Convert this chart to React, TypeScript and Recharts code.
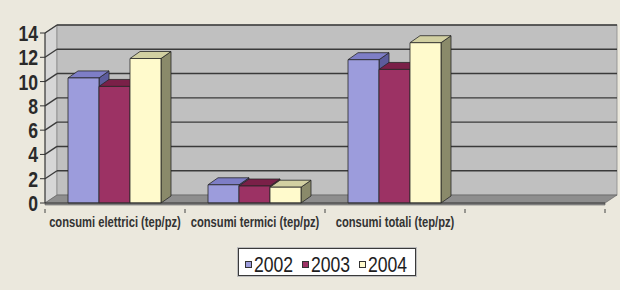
import { BarChart, Bar, XAxis, YAxis, CartesianGrid } from "recharts";

const categories = [
  "consumi elettrici (tep/pz)",
  "consumi termici (tep/pz)",
  "consumi totali (tep/pz)",
  "",
];
const years = ["2002", "2003", "2004"];
const values2002 = [10.3, 1.5, 11.8, null];
const values2003 = [9.6, 1.4, 11.0, null];
const values2004 = [11.9, 1.3, 13.2, null];
const yTicks = [0, 2, 4, 6, 8, 10, 12, 14];

const data = categories.map((name, i) => ({
  name,
  y2002: values2002[i],
  y2003: values2003[i],
  y2004: values2004[i],
}));

const COLORS = [
  { face: "#9c9cdc", top: "#7e7ec6", side: "#5c5c9c" },
  { face: "#9c3264", top: "#7a2048", side: "#66203f" },
  { face: "#fffacc", top: "#d2d0a2", side: "#8a8a6a" },
];

// Arial Narrow is not installed: squeeze Liberation Sans horizontally instead
const FONT = "'Liberation Sans', Arial, sans-serif";
const NARROW = 0.8;
const WALL_DX = 12;
const WALL_DY = -8;

function NarrowText({ x, y, anchor, size, weight, fill, children }: any) {
  return (
    <g transform={`translate(${x},${y}) scale(${NARROW},1)`}>
      <text
        x={0}
        y={0}
        textAnchor={anchor}
        fill={fill}
        fontFamily={FONT}
        fontWeight={weight}
        fontSize={size}
      >
        {children}
      </text>
    </g>
  );
}

function Bar3D(props: any) {
  const { x, y, width, height, face, top, side } = props;
  if (x == null || !height || height <= 0) return null;
  const dx = 10;
  const dy = -7;
  const r = x + width;
  const b = y + height;
  return (
    <g stroke="#262626" strokeWidth={0.8} strokeLinejoin="round">
      <polygon points={`${r},${y} ${r + dx},${y + dy} ${r + dx},${b + dy} ${r},${b}`} fill={side} />
      <polygon points={`${x},${y} ${x + dx},${y + dy} ${r + dx},${y + dy} ${r},${y}`} fill={top} />
      <rect x={x} y={y} width={width} height={height} fill={face} />
    </g>
  );
}

function GridLine(props: any) {
  const { x1, x2, y1, index, y, height } = props;
  const top = y;
  const bottom = y + height;
  const walls =
    index === 0 ? (
      <g>
        <polygon
          points={`${x1},${bottom} ${x1 + WALL_DX},${bottom + WALL_DY} ${x1 + WALL_DX},${top + WALL_DY} ${x1},${top}`}
          fill="#d6d6d6"
          stroke="#8a8a8a"
          strokeWidth={0.8}
        />
        <rect
          x={x1 + WALL_DX}
          y={top + WALL_DY}
          width={x2 - x1}
          height={height}
          fill="#c0c0c0"
          stroke="#8a8a8a"
          strokeWidth={0.8}
        />
        <polygon
          points={`${x1},${bottom} ${x1 + WALL_DX},${bottom + WALL_DY} ${x2 + WALL_DX},${bottom + WALL_DY} ${x2},${bottom} ${x2},${bottom + 2} ${x1},${bottom + 2}`}
          fill="#8e8e8e"
          stroke="#5a5a5a"
          strokeWidth={0.6}
        />
      </g>
    ) : null;
  const isFloor = Math.abs(y1 - bottom) < 0.5;
  return (
    <g key={`g-${index}`}>
      {walls}
      {!isFloor && (
        <g stroke="#3a3a3a" strokeWidth={1.4}>
          <line x1={x1} y1={y1} x2={x1 + WALL_DX} y2={y1 + WALL_DY} />
          <line x1={x1 + WALL_DX} y1={y1 + WALL_DY} x2={x2 + WALL_DX} y2={y1 + WALL_DY} />
        </g>
      )}
    </g>
  );
}

function XTick(props: any) {
  const { x, y, payload, width, visibleTicksCount } = props;
  const n = visibleTicksCount || 4;
  const half = (width || 560) / n / 2;
  return (
    <g>
      <line x1={x - half} y1={y - 2} x2={x - half} y2={y + 2} stroke="#444" />
      {payload.index === n - 1 && (
        <line x1={x + half} y1={y - 2} x2={x + half} y2={y + 2} stroke="#444" />
      )}
      <NarrowText x={x} y={y + 16} anchor="middle" size={14} weight="bold" fill="#333">
        {payload.value}
      </NarrowText>
    </g>
  );
}

function YTick(props: any) {
  const { x, y, payload } = props;
  return (
    <NarrowText x={x} y={y + 8} anchor="end" size={22} weight="bold" fill="#2a2a2a">
      {payload.value}
    </NarrowText>
  );
}

function LegendBox() {
  return (
    <svg
      width={180}
      height={30}
      style={{ position: "absolute", left: 237, top: 247 }}
    >
      <rect x={0.5} y={0.5} width={179} height={29} fill="#ffffff" stroke="#bdbdbd" />
      <rect x={1.5} y={1.5} width={177} height={27} fill="#ffffff" stroke="#3a3a3a" />
      {years.map((yr, i) => (
        <g key={yr} transform={`translate(${8 + i * 57},0)`}>
          <rect x={0.5} y={14.5} width={6} height={6} fill={COLORS[i].face} stroke="#333" />
          <NarrowText x={9} y={25} anchor="start" size={22} weight="normal" fill="#1e1e1e">
            {yr}
          </NarrowText>
        </g>
      ))}
    </svg>
  );
}

export default function App() {
  return (
    <div
      style={{
        position: "absolute",
        left: 0,
        top: 0,
        width: 620,
        height: 290,
        background: "#ebe8dd",
      }}
    >
      <BarChart
        width={620}
        height={290}
        data={data}
        margin={{ top: 33, right: 15, bottom: 57, left: 0 }}
        barCategoryGap={23}
        barGap={0}
      >
        <CartesianGrid vertical={false} horizontal={GridLine} fill="none" />
        <XAxis
          dataKey="name"
          height={30}
          axisLine={{ stroke: "#333" }}
          tickLine={false}
          interval={0}
          tick={<XTick />}
        />
        <YAxis
          width={45}
          domain={[0, 14]}
          ticks={yTicks}
          interval={0}
          axisLine={{ stroke: "#333" }}
          tickLine={{ stroke: "#333" }}
          tickSize={5}
          tickMargin={2}
          tick={<YTick />}
        />
        {years.map((yr, i) => (
          <Bar
            key={yr}
            dataKey={`y${yr}`}
            name={yr}
            isAnimationActive={false}
            shape={<Bar3D {...COLORS[i]} />}
          />
        ))}
      </BarChart>
      <LegendBox />
    </div>
  );
}
